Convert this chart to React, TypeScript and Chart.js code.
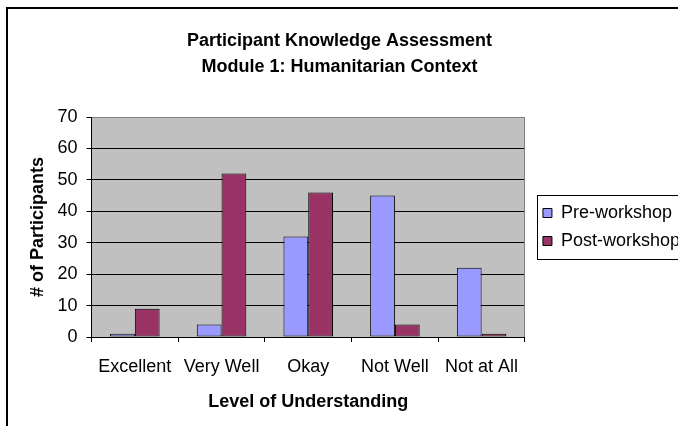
import React, { useEffect, useRef } from "react";
import { Chart, registerables } from "chart.js";

Chart.register(...registerables);

const categories = ["Excellent", "Very Well", "Okay", "Not Well", "Not at All"];
const preWorkshop = [1, 4, 32, 45, 22];
const postWorkshop = [9, 52, 46, 4, 1];
const seriesNames = ["Pre-workshop", "Post-workshop"];
const titleLines = ["Participant Knowledge Assessment", "Module 1: Humanitarian Context"];
const yAxisTitle = "# of Participants";
const xAxisTitle = "Level of Understanding";
const yMin = 0;
const yMax = 70;
const yStep = 10;

const FONT = "'Liberation Sans', Arial, Helvetica, sans-serif";
const CANVAS_W = 690;
const CANVAS_H = 426;

const framePlugin = {
  id: "framePlugin",
  beforeDraw(chart: any) {
    const { ctx, chartArea } = chart;
    ctx.save();
    ctx.fillStyle = "#ffffff";
    ctx.fillRect(0, 0, chart.width, chart.height);
    ctx.strokeStyle = "#000000";
    ctx.lineWidth = 2;
    ctx.strokeRect(7, 8, chart.width + 40, chart.height + 40);
    ctx.fillStyle = "#C0C0C0";
    ctx.fillRect(chartArea.left, chartArea.top, chartArea.right - chartArea.left, chartArea.bottom - chartArea.top);
    ctx.restore();
  },
  beforeDatasetsDraw(chart: any) {
    const { ctx, chartArea } = chart;
    ctx.save();
    ctx.strokeStyle = "#808080";
    ctx.lineWidth = 1;
    ctx.beginPath();
    ctx.moveTo(Math.round(chartArea.left) + 0.5, Math.round(chartArea.top) + 0.5);
    ctx.lineTo(Math.round(chartArea.right) - 0.5, Math.round(chartArea.top) + 0.5);
    ctx.lineTo(Math.round(chartArea.right) - 0.5, Math.round(chartArea.bottom));
    ctx.stroke();
    ctx.restore();
  },
  afterDraw(chart: any) {
    const legend = chart.legend;
    if (!legend || !legend.legendHitBoxes || legend.legendHitBoxes.length === 0) return;
    const boxes = legend.legendHitBoxes;
    const first = boxes[0];
    const last = boxes[boxes.length - 1];
    const { ctx } = chart;
    ctx.save();
    ctx.strokeStyle = "#000000";
    ctx.lineWidth = 1;
    const left = Math.round(first.left - 6) + 0.5;
    const top = Math.round(first.top - 9) + 0.5;
    const bottom = Math.round(last.top + last.height + 9) + 0.5;
    ctx.strokeRect(left, top, chart.width + 20 - left, bottom - top);
    ctx.restore();
  },
};

export default function App() {
  const canvasRef = useRef<HTMLCanvasElement | null>(null);

  useEffect(() => {
    const canvas = canvasRef.current;
    if (!canvas) return;
    const chart = new Chart(canvas, {
      type: "bar",
      data: {
        labels: categories,
        datasets: [
          {
            label: seriesNames[0],
            data: preWorkshop,
            backgroundColor: "#9999FF",
            borderColor: "#000000",
            borderWidth: 1,
            borderSkipped: false,
            categoryPercentage: 2 / 3.5,
            barPercentage: 1,
          },
          {
            label: seriesNames[1],
            data: postWorkshop,
            backgroundColor: "#993366",
            borderColor: "#000000",
            borderWidth: 1,
            borderSkipped: false,
            categoryPercentage: 2 / 3.5,
            barPercentage: 1,
          },
        ],
      },
      options: {
        responsive: false,
        animation: false,
        devicePixelRatio: 1,
        layout: { padding: { left: -11, right: 0, top: 0, bottom: 0 } },
        plugins: {
          tooltip: { enabled: false },
          title: {
            display: true,
            text: titleLines,
            color: "#000000",
            font: { family: FONT, size: 18, weight: "bold", lineHeight: 26 / 18 },
            padding: { top: 28, bottom: 37 },
          },
          legend: {
            display: true,
            position: "right",
            fullSize: false,
            maxWidth: 240,
            labels: {
              color: "#000000",
              font: { family: FONT, size: 18 },
              boxWidth: 9,
              boxHeight: 9,
              padding: 10,
            },
          },
        },
        scales: {
          x: {
            ticks: {
              color: "#000000",
              font: { family: FONT, size: 18 },
              padding: 14,
              autoSkip: false,
              maxRotation: 0,
            },
            grid: {
              display: true,
              drawOnChartArea: false,
              drawTicks: true,
              tickLength: 5,
              color: "#000000",
              offset: true,
            },
            border: { display: true, color: "#000000", width: 1 },
            title: {
              display: true,
              text: xAxisTitle,
              color: "#000000",
              font: { family: FONT, size: 18, weight: "bold" },
              padding: { top: 0, bottom: 13 },
            },
            afterFit: (s: any) => {
              s.height = 89;
            },
          },
          y: {
            min: yMin,
            max: yMax,
            ticks: {
              stepSize: yStep,
              color: "#000000",
              font: { family: FONT, size: 18 },
              padding: 9,
            },
            grid: {
              color: (c: any) => (c.tick && c.tick.value === yMax ? "#808080" : "#000000"),
              tickColor: "#000000",
              tickLength: 5,
              drawTicks: true,
              lineWidth: 1,
            },
            border: { display: true, color: "#000000", width: 1 },
            title: {
              display: true,
              text: yAxisTitle,
              color: "#000000",
              font: { family: FONT, size: 18, weight: "bold" },
              padding: { top: 38, bottom: 0 },
            },
            afterFit: (s: any) => {
              s.width = 102.5;
            },
          },
          y2: {
            type: "linear",
            position: "right",
            display: true,
            grid: { display: false, drawTicks: false },
            ticks: { display: false },
            border: { display: false },
            afterFit: (s: any) => {
              s.width = 8;
            },
          },
        },
      } as any,
      plugins: [framePlugin],
    });
    return () => chart.destroy();
  }, []);

  return (
    <div style={{ position: "fixed", left: 0, top: 0, width: 678, height: 426, overflow: "hidden", background: "#fff" }}>
      <canvas ref={canvasRef} width={CANVAS_W} height={CANVAS_H} style={{ display: "block", width: CANVAS_W, height: CANVAS_H }} />
    </div>
  );
}
